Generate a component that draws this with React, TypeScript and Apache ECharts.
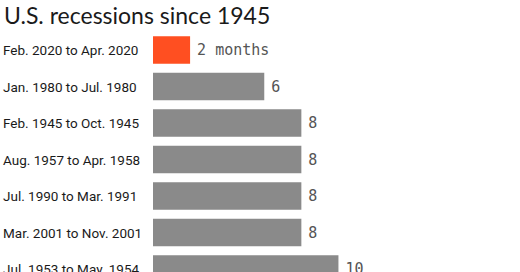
import React, { useEffect, useRef } from "react";
import * as echarts from "echarts";

const title = "U.S. recessions since 1945";
const categories = [
  "Feb. 2020 to Apr. 2020",
  "Jan. 1980 to Jul. 1980",
  "Feb. 1945 to Oct. 1945",
  "Aug. 1957 to Apr. 1958",
  "Jul. 1990 to Mar. 1991",
  "Mar. 2001 to Nov. 2001",
  "Jul. 1953 to May. 1954",
];
const months = [2, 6, 8, 8, 8, 8, 10];
const highlight = [true, false, false, false, false, false, false];

export default function App() {
  const ref = useRef<HTMLDivElement>(null);
  useEffect(() => {
    const chart = echarts.init(ref.current!, null, { renderer: "svg" });
    chart.setOption({
      animation: false,
      backgroundColor: "#ffffff",
      title: {
        text: title,
        left: -1,
        top: -2,
        textStyle: { fontFamily: "Lato", fontSize: 23, fontWeight: 400, color: "#1a1a1a" },
      },
      grid: { left: 151.5, top: 31.75, width: 335.3, height: 255.5 },
      xAxis: {
        type: "value",
        min: 0,
        max: 18,
        show: false,
      },
      yAxis: {
        type: "category",
        data: categories,
        inverse: true,
        axisLine: { show: false },
        axisTick: { show: false },
        axisLabel: {
          align: "left",
          margin: 150,
          fontFamily: "Roboto",
          fontSize: 13.5,
          color: "#1a1a1a",
        },
      },
      series: [
        {
          type: "bar",
          barWidth: 27.5,
          data: months.map((v, i) => ({
            value: v,
            itemStyle: { color: highlight[i] ? "#ff4f21" : "#8a8a8a" },
          })),
          label: {
            show: true,
            position: "right",
            distance: 7,
            fontFamily: "DejaVu Sans Mono",
            fontSize: 15,
            color: "#555555",
            formatter: (p: any) => (p.dataIndex === 0 ? `${p.value} months` : `${p.value}`),
          },
        },
      ],
    });
    return () => chart.dispose();
  }, []);
  return (
    <div style={{ position: "fixed", left: 0, top: 0, width: 520, height: 272, overflow: "hidden", background: "#fff" }}>
      <div ref={ref} style={{ width: 520, height: 300 }} />
    </div>
  );
}
